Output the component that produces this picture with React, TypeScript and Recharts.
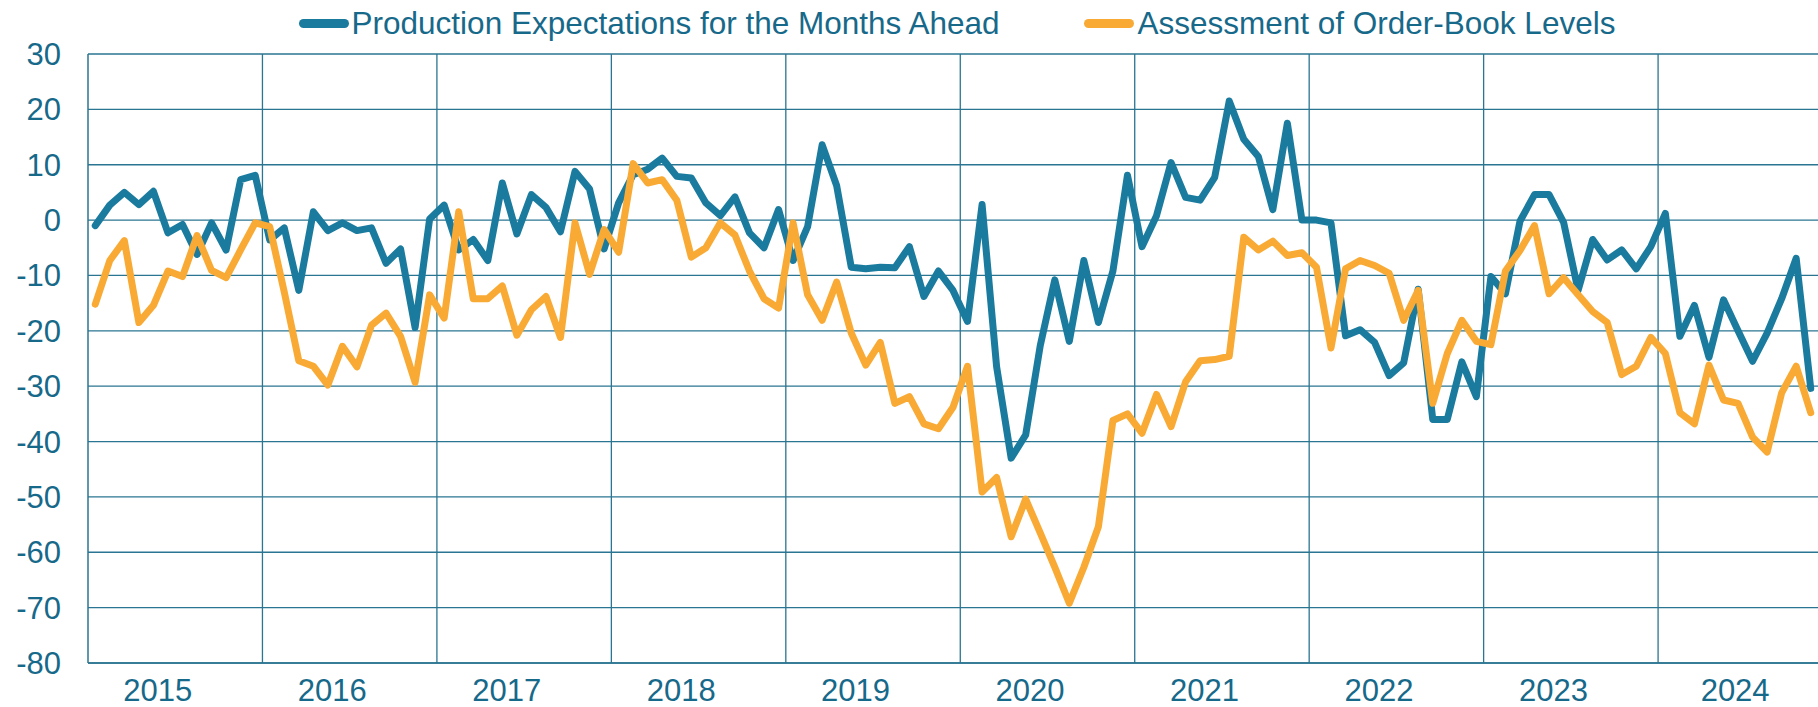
import React from 'react';
import { LineChart, Line, XAxis, YAxis, CartesianGrid, ReferenceLine, Legend } from 'recharts';

// monthly survey balances, Jan 2015 - Nov 2024
const years = ['2015', '2016', '2017', '2018', '2019', '2020', '2021', '2022', '2023', '2024'];
const monthsPerYear = [12, 12, 12, 12, 12, 12, 12, 12, 12, 11];

const production = [
  -1, 2.7, 5, 2.8, 5.2, -2.3, -0.8, -6.2, -0.5, -5.4, 7.3, 8.1,
  -3.6, -1.4, -12.7, 1.5, -1.9, -0.5, -1.9, -1.4, -7.8, -5.2, -19.4, 0.2,
  2.7, -5.4, -3.5, -7.3, 6.7, -2.5, 4.6, 2.3, -2.1, 8.8, 5.6, -5.2,
  3.1, 8.2, 9.2, 11.2, 7.9, 7.6, 3.1, 0.8, 4.2, -2.3, -5, 1.9,
  -7.3, -1.2, 13.6, 6.2, -8.5, -8.8, -8.5, -8.6, -4.8, -13.8, -9.2, -12.7,
  -18.3, 2.8, -26.5, -43, -38.8, -22.7, -10.8, -21.9, -7.3, -18.5, -9.2, 8.1,
  -4.8, 0.8, 10.4, 4.1, 3.6, 7.7, 21.5, 14.6, 11.5, 1.9, 17.5, 0,
  0, -0.5, -20.9, -19.8, -22.1, -28.1, -25.8, -12.5, -36, -36, -25.6, -31.9,
  -10.2, -13.3, -0.2, 4.6, 4.6, -0.4, -12.7, -3.5, -7.2, -5.4, -8.8, -4.8,
  1.2, -21, -15.4, -24.8, -14.4, -20, -25.5, -20.4, -14.2, -6.9, -30.4,
];

const orderBooks = [
  -15.2, -7.3, -3.7, -18.5, -15.4, -9.2, -10.2, -2.8, -9.1, -10.4, -5.4, -0.5,
  -1.2, -13, -25.4, -26.4, -29.8, -22.8, -26.5, -19, -16.8, -21, -29.3, -13.5,
  -17.7, 1.5, -14.2, -14.2, -11.9, -20.8, -16.2, -13.8, -21.2, -0.5, -9.8, -1.7,
  -5.8, 10.2, 6.7, 7.3, 3.6, -6.7, -5, -0.5, -2.7, -9.2, -14.2, -15.9,
  -0.5, -13.5, -18.1, -11.2, -20.4, -26.2, -22.1, -33.1, -31.9, -36.8, -37.7, -33.8,
  -26.4, -49.1, -46.5, -57.2, -50.4, -56.5, -62.7, -69.2, -62.7, -55.4, -36.2, -35,
  -38.5, -31.5, -37.3, -29.2, -25.4, -25.2, -24.6, -3.1, -5.4, -3.8, -6.4, -5.9,
  -8.5, -23.1, -8.8, -7.3, -8.2, -9.6, -18.1, -12.7, -33.1, -24.1, -18.1, -21.9,
  -22.5, -9.2, -5.5, -1, -13.3, -10.4, -13.5, -16.5, -18.5, -27.9, -26.4, -21.2,
  -24.1, -34.8, -36.8, -26.2, -32.5, -33.1, -39.2, -41.9, -31.2, -26.4, -34.8,
];

const yTicks = [-80, -70, -60, -50, -40, -30, -20, -10, 0, 10, 20, 30];

const seriesNames = ['Production Expectations for the Months Ahead', 'Assessment of Order-Book Levels'];
const seriesColors = ['#1a7b9e', '#f9aa35'];

const TEXT = '#17698a';
const GRID = '#2a7591';
const FONT = '"Liberation Sans", Arial, sans-serif';

// x position = month index; years are bands of months
const data = production.map((p, i) => ({ t: i, prod: p, order: orderBooks[i] }));

const yearStarts: number[] = [];
const yearLabelAt: number[] = [];
let start = 0;
monthsPerYear.forEach((n) => {
  yearStarts.push(start);
  // labels sit a little left of the band centre, like the original
  yearLabelAt.push(start + 4.3 + (12 - n) * 0.5);
  start += n;
});
const lastIndex = production.length - 1;

const renderLegend = () => (
  <div style={{ display: 'flex', justifyContent: 'center', gap: 85, fontFamily: FONT, fontSize: 31.5, lineHeight: '36px', color: TEXT }}>
    {seriesNames.map((name, i) => (
      <div key={name} style={{ display: 'flex', alignItems: 'center' }}>
        <span style={{ display: 'inline-block', width: 50, height: 9, borderRadius: 5, background: seriesColors[i], marginRight: 3 }} />
        <span>{name}</span>
      </div>
    ))}
  </div>
);

export default function App() {
  return (
    <div style={{ position: 'absolute', left: 0, top: 0, width: 1818, height: 707, background: '#fff' }}>
      <LineChart width={1818} height={707} data={data} margin={{ top: 54, right: 0, bottom: 0, left: 0 }}>
        <CartesianGrid vertical={false} stroke={GRID} strokeWidth={1.3} />
        {yearStarts.slice(1).map((s) => (
          <ReferenceLine key={s} x={s - 0.5} stroke={GRID} strokeWidth={1.3} ifOverflow="visible" />
        ))}
        <XAxis
          type="number"
          dataKey="t"
          domain={[-0.5, lastIndex + 0.5]}
          ticks={yearLabelAt}
          tickFormatter={(v: number) => years[yearLabelAt.indexOf(v)]}
          interval={0}
          height={44}
          tickLine={false}
          tickSize={0}
          tickMargin={16}
          axisLine={{ stroke: GRID, strokeWidth: 1.5 }}
          tick={{ fill: TEXT, fontSize: 31, fontFamily: FONT }}
        />
        <YAxis
          domain={[-80, 30]}
          ticks={yTicks}
          interval={0}
          width={88}
          tickLine={false}
          tickSize={0}
          tickMargin={27}
          axisLine={{ stroke: GRID, strokeWidth: 1.5 }}
          tick={{ fill: TEXT, fontSize: 31, fontFamily: FONT }}
        />
        <Legend verticalAlign="middle" align="center" content={renderLegend} wrapperStyle={{ top: 5, left: 96, width: 1722 }} />
        <Line
          type="linear"
          dataKey="prod"
          name={seriesNames[0]}
          stroke={seriesColors[0]}
          strokeWidth={7}
          strokeLinejoin="round"
          strokeLinecap="round"
          dot={false}
          isAnimationActive={false}
        />
        <Line
          type="linear"
          dataKey="order"
          name={seriesNames[1]}
          stroke={seriesColors[1]}
          strokeWidth={7}
          strokeLinejoin="round"
          strokeLinecap="round"
          dot={false}
          isAnimationActive={false}
        />
      </LineChart>
    </div>
  );
}
